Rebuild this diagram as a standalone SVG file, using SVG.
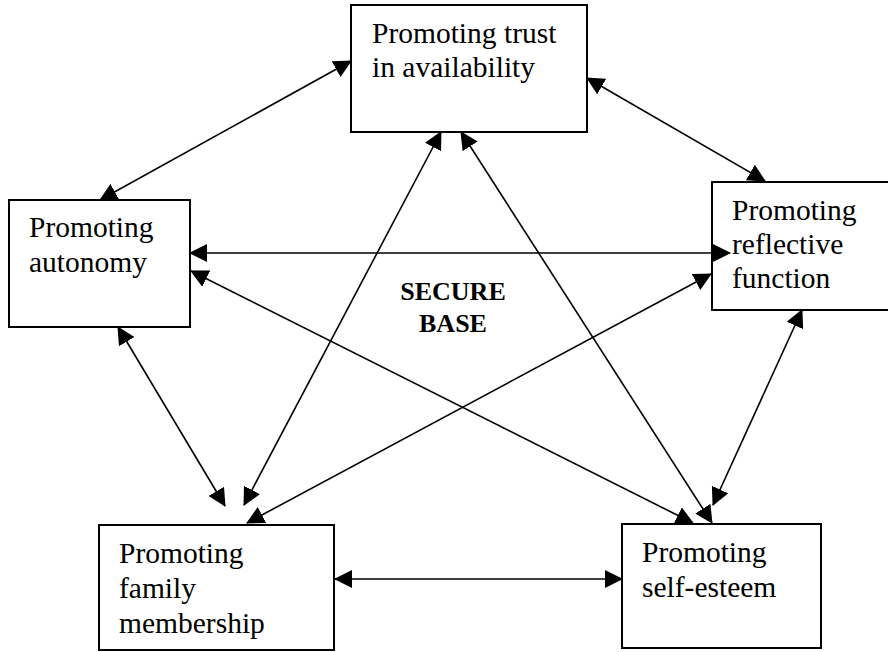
<svg xmlns="http://www.w3.org/2000/svg" width="888" height="652" viewBox="0 0 888 652">
<defs>
<style>
.box{fill:#fff;stroke:#000;stroke-width:2}
.lbl{font-family:"Liberation Serif","Times New Roman",serif;font-size:29.5px;fill:#000}
.center{font-family:"Liberation Serif","Times New Roman",serif;font-size:26px;font-weight:bold;fill:#000;text-anchor:middle}
.con{stroke:#000;stroke-width:1.6;fill:none;marker-start:url(#ah);marker-end:url(#ah)}
</style>
<marker id="ah" viewBox="0 0 18 18" refX="17" refY="9" markerWidth="18" markerHeight="18" markerUnits="userSpaceOnUse" orient="auto-start-reverse">
<path d="M0,0 L18,9 L0,18 z" fill="#000"/>
</marker>
</defs>
<rect width="888" height="652" fill="#fff"/>
<g id="nodes">
<g id="trust">
<rect class="box" x="351" y="5" width="236" height="127"/>
<text class="lbl" x="372" y="43">Promoting trust</text>
<text class="lbl" x="372" y="77">in availability</text>
</g>
<g id="autonomy">
<rect class="box" x="9" y="200" width="181" height="127"/>
<text class="lbl" x="29" y="237">Promoting</text>
<text class="lbl" x="29" y="272">autonomy</text>
</g>
<g id="reflective">
<rect class="box" x="712" y="182" width="190" height="128"/>
<text class="lbl" x="732" y="220">Promoting</text>
<text class="lbl" x="732" y="254">reflective</text>
<text class="lbl" x="732" y="288">function</text>
</g>
<g id="family">
<rect class="box" x="99" y="525" width="235" height="125"/>
<text class="lbl" x="119" y="563">Promoting</text>
<text class="lbl" x="119" y="598">family</text>
<text class="lbl" x="119" y="633">membership</text>
</g>
<g id="selfesteem">
<rect class="box" x="622" y="524" width="199" height="124"/>
<text class="lbl" x="642" y="562">Promoting</text>
<text class="lbl" x="642" y="597">self-esteem</text>
</g>
<g id="secure">
<text class="center" x="453" y="300">SECURE</text>
<text class="center" x="453" y="332">BASE</text>
</g>
</g>
<g id="connectors">
<line class="con" x1="351" y1="61" x2="100" y2="200"/>
<line class="con" x1="587" y1="78" x2="765" y2="181"/>
<line class="con" x1="190" y1="253" x2="730" y2="253"/>
<line class="con" x1="191" y1="271" x2="693" y2="523"/>
<line class="con" x1="118" y1="327" x2="225" y2="506"/>
<line class="con" x1="441" y1="132" x2="244" y2="505"/>
<line class="con" x1="461" y1="132" x2="712" y2="523"/>
<line class="con" x1="711" y1="274" x2="247" y2="523"/>
<line class="con" x1="802" y1="310" x2="713" y2="505"/>
<line class="con" x1="335" y1="579" x2="622" y2="579"/>
</g>
</svg>
